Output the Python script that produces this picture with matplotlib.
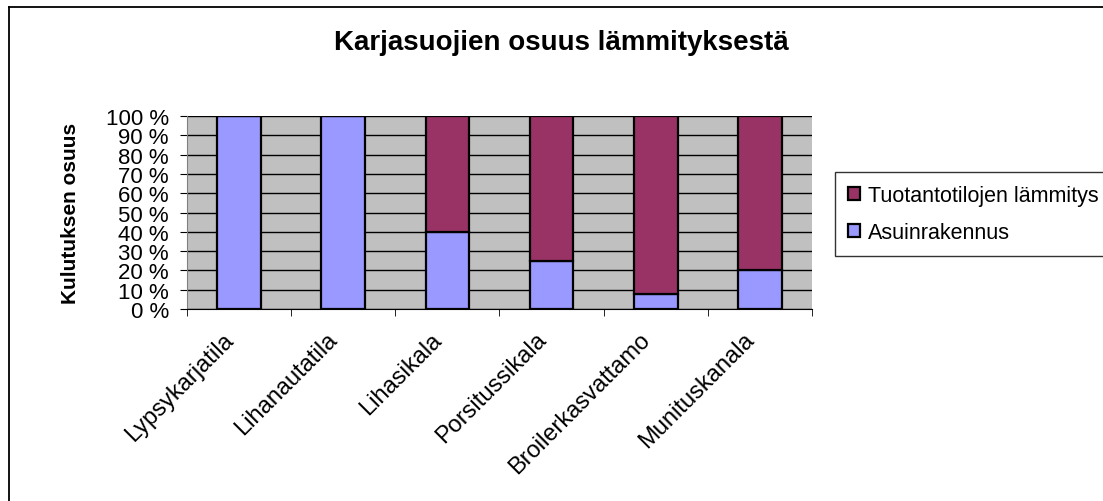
import numpy as np
import matplotlib
matplotlib.use("Agg")
import matplotlib.pyplot as plt
import matplotlib.transforms as mtransforms
from matplotlib.lines import Line2D

plt.rcParams['font.family'] = ['Liberation Sans', 'DejaVu Sans']

# data
categories = ['Lypsykarjatila', 'Lihanautatila', 'Lihasikala',
              'Porsitussikala', 'Broilerkasvattamo', 'Munituskanala']
asuin = [100, 100, 40, 25, 8, 20]          # Asuinrakennus (%)
tuotanto = [0, 0, 60, 75, 92, 80]          # Tuotantotilojen lämmitys (%)
yticks = np.arange(0, 101, 10)

fig = plt.figure(figsize=(11.03, 5.02), dpi=100)

# outer chart frame (left and top edges visible, rest cut off)
fig.add_artist(Line2D([9/1103, 9/1103], [0, 1 - 8/502], color='black', lw=1.3))
fig.add_artist(Line2D([9/1103, 1], [1 - 8/502, 1 - 8/502], color='black', lw=1.3))

ax = fig.add_axes([187/1103, 1 - 310/502, (812 - 187)/1103, (310 - 117)/502])
ax.set_facecolor('#C0C0C0')

x = np.arange(len(categories))
w = 0.42
b1 = ax.bar(x, asuin, w, color='#9999FF', edgecolor='black', linewidth=1.6,
            label='Asuinrakennus', zorder=3)
b2 = ax.bar(x, tuotanto, w, bottom=asuin, color='#993366', edgecolor='black',
            linewidth=1.6, label='Tuotantotilojen lämmitys', zorder=3)

ax.set_xlim(-0.5, len(categories) - 0.5)
ax.set_ylim(0, 100)
ax.set_yticks(yticks)
ax.set_yticklabels([f'{v} %' for v in yticks], fontsize=16)
ax.yaxis.grid(True, color='black', linewidth=1)
ax.set_axisbelow(True)

ax.set_xticks(x)
ax.set_xticks(np.arange(-0.5, len(categories)), minor=True)
ax.tick_params(axis='x', which='major', length=0, pad=19.5)
ax.tick_params(axis='x', which='minor', length=5, direction='out', color='black')
ax.tick_params(axis='y', length=5, direction='out', pad=8)
ax.set_xticklabels(categories, rotation=45, ha='right', va='center',
                   rotation_mode='anchor', fontsize=17)

# nudge the category labels a little to the left
shift = mtransforms.ScaledTranslation(-9/100, 0, fig.dpi_scale_trans)
for lbl in ax.get_xticklabels():
    lbl.set_transform(lbl.get_transform() + shift)

for side in ['top', 'right']:
    ax.spines[side].set_visible(False)
ax.spines['left'].set_color('#808080')
ax.spines['bottom'].set_color('black')

ax.set_ylabel('Kulutuksen osuus', fontsize=15, fontweight='bold')
ax.yaxis.set_label_coords((80 - 187)/625, 0.5)

fig.text(561/1103, 1 - 43/502, 'Karjasuojien osuus lämmityksestä',
         ha='center', va='center', fontsize=20, fontweight='bold')

leg = fig.legend(handles=[b2, b1], labels=['Tuotantotilojen lämmitys', 'Asuinrakennus'],
                 loc='upper left', bbox_to_anchor=(835/1103, 1 - 173/502),
                 fontsize=15.5, frameon=True, fancybox=False, edgecolor='black',
                 handlelength=0.55, handleheight=0.55, handletextpad=0.4,
                 borderpad=0.6, labelspacing=0.75, borderaxespad=0)
leg.get_frame().set_linewidth(1)

plt.savefig('out.png', dpi=100)
